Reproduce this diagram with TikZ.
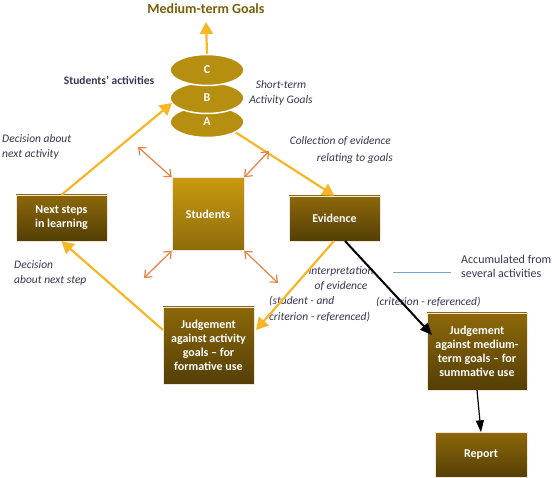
\documentclass[tikz,border=0pt]{standalone}
\usepackage{fontspec}
\setmainfont{Carlito}
\usetikzlibrary{shapes.geometric,arrows.meta}
\definecolor{gold}{HTML}{F6B625}
\definecolor{orng}{HTML}{E8803F}
\definecolor{lbl}{HTML}{3B3450}
\definecolor{ell}{HTML}{B78F10}
\definecolor{titlec}{HTML}{7A5E08}
\definecolor{blu}{HTML}{7BA4D6}
\definecolor{stutop}{HTML}{C99A10}
\definecolor{darktop}{HTML}{8C680A}
\tikzset{
  darkbox/.style={rectangle, top color=darktop, bottom color=darktop!60!black, draw=white!80!brown, line width=0.4pt,
    text=white, font=\fontsize{12}{14}\selectfont\bfseries, align=center, inner sep=0pt},
  ellgoal/.style={ellipse, fill=ell, draw=white, line width=1.5pt, minimum width=74pt, minimum height=31pt,
    text=white, font=\fontsize{12}{14}\selectfont\bfseries, inner sep=0pt},
  yarrow/.style={draw=gold, line width=2.2pt, -{Triangle[width=13pt,length=12pt]}},
  oarrow/.style={draw=orng, line width=1.2pt, {Straight Barb[length=6pt,width=10pt]}-{Straight Barb[length=6pt,width=10pt]}},
  ital/.style={text=lbl, font=\fontsize{11.5}{15.5}\selectfont\itshape, inner sep=0pt},
  plain/.style={text=lbl, font=\fontsize{12}{14}\selectfont, inner sep=0pt},
}
\begin{document}
\begin{tikzpicture}[x=1pt,y=-1pt]
\path[use as bounding box] (0,0) rectangle (552,478);
% title
\node[text=titlec, font=\fontsize{14}{16}\selectfont\bfseries, inner sep=0pt] (mtg) at (206,9) {Medium-term Goals};
% ellipses
\node[ellgoal] (A) at (207,122) {A};
\node[ellgoal] (B) at (207,98) {B};
\node[ellgoal] (C) at (207,70) {C};
\coordinate (mtgtip) at (206,22);
\draw[yarrow] (C.north) -- (mtgtip);
\node[text=lbl, font=\fontsize{11.5}{14}\selectfont\bfseries, inner sep=0pt] (sa) at (109,80) {Students’ activities};
\node[ital, align=center] (stg) at (281,93) {Short-term\\Activity Goals};
% boxes
\node[rectangle, top color=stutop, bottom color=stutop!70!black, draw=white!80!brown, line width=0.4pt,
  text=white, font=\fontsize{12}{14}\selectfont\bfseries, minimum width=72pt, minimum height=73pt, inner sep=0pt] (stu) at (208,214) {Students};
\node[darkbox, minimum width=91pt, minimum height=46pt] (next) at (61.5,218) {Next steps\\in learning};
\node[darkbox, minimum width=91pt, minimum height=45pt] (evid) at (334.5,218.5) {Evidence};
\node[darkbox, minimum width=91pt, minimum height=77pt] (form) at (208.5,345.5) {Judgement\\against activity\\goals – for\\formative use};
\node[darkbox, minimum width=100pt, minimum height=77pt] (summ) at (477,351.5) {Judgement\\against medium-\\term goals – for\\summative use};
\node[darkbox, minimum width=92pt, minimum height=45pt] (rep) at (481,455) {Report};
% labels
\node[ital, align=left, anchor=north west] (dna) at (2,134) {Decision about\\next activity};
\node[ital, anchor=east] (coe) at (391,141) {Collection of evidence};
\node[ital, anchor=east] (rtg) at (393,158) {relating to goals};
\node[ital, align=left, anchor=north west] (dns) at (14,260) {Decision\\about next step};
\node[ital, align=center, anchor=north] (ioe) at (341,266) {Interpretation\\of evidence};
\node[ital, align=left, anchor=north west] (sac) at (269,296) {(student - and\\criterion - referenced)};
\node[ital, anchor=west] (cr) at (376,302) {(criterion - referenced)};
\node[plain, align=left, anchor=west] (acc) at (461,266) {Accumulated from\\several activities};
% yellow connectors
\coordinate (Bin) at (172,103);
\draw[yarrow] (next.north) -- (Bin);
\draw[yarrow] (A.-20) -- (evid.north);
\coordinate (evout1) at (334,241);
\coordinate (formin) at (256,330);
\draw[yarrow] (evout1) -- (formin);
\coordinate (formout) at (163,330);
\draw[yarrow] (formout) -- (next.south);
% orange double arrows
\coordinate (o1) at (138,147);
\coordinate (o2) at (269,151);
\coordinate (o3) at (144,278);
\coordinate (o4) at (278,283);
\draw[oarrow] (o1) -- (stu.north west);
\draw[oarrow] (stu.north east) -- (o2);
\draw[oarrow] (stu.south west) -- (o3);
\draw[oarrow] (stu.south east) -- (o4);
% black connectors
\coordinate (evout2) at (345,241);
\coordinate (summin) at (432,335);
\draw[line width=2pt, -{Triangle[width=10pt,length=12pt]}] (evout2) -- (summin);
\draw[line width=1.2pt, -{Triangle[width=8pt,length=12pt]}] (summ.south) -- (rep.north);
% blue line
\coordinate (bl1) at (393,272);
\coordinate (bl2) at (451,272);
\draw[blu, line width=0.8pt] (bl1) -- (bl2);
\end{tikzpicture}
\end{document}
